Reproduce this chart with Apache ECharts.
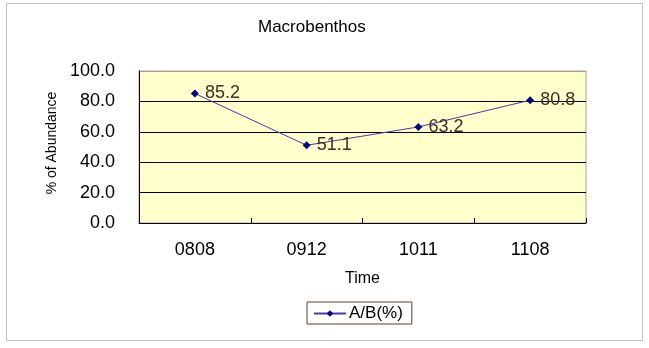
<!DOCTYPE html>
<html>
<head>
<meta charset="utf-8">
<script src="https://cdn.jsdelivr.net/npm/echarts@6/dist/echarts.min.js"></script>
<style>
  html, body { margin: 0; padding: 0; background: #fff; }
  #chart { width: 649px; height: 348px; }
</style>
</head>
<body>
<div id="chart"></div>
<script>
// Sampling periods (YYMM) and the A/B abundance ratio in percent
const periods = ['0808', '0912', '1011', '1108'];
const abRatio = [85.2, 51.1, 63.2, 80.8];
const seriesName = 'A/B(%)';

const FONT = 'Liberation Sans, Arial, sans-serif';

const chart = echarts.init(document.getElementById('chart'), null, { renderer: 'canvas' });

chart.setOption({
  backgroundColor: '#ffffff',
  animation: false,
  textStyle: { fontFamily: FONT },
  title: {
    text: 'Macrobenthos',
    left: 258,
    top: 19,
    padding: 0,
    textStyle: { fontFamily: FONT, fontSize: 17, fontWeight: 'normal', color: '#000' }
  },
  graphic: [{
    type: 'rect',
    shape: { x: 6.5, y: 3.5, width: 636, height: 337 },
    style: { fill: null, stroke: '#c0c0c0', lineWidth: 1 },
    silent: true,
    z: -1
  }],
  legend: {
    data: [seriesName],
    left: 307,
    top: 302,
    padding: [3, 9, 2, 6],
    itemWidth: 32,
    itemHeight: 8,
    itemGap: 6,
    borderColor: '#5a3c3c',
    borderWidth: 1,
    textStyle: { fontFamily: FONT, fontSize: 17, color: '#000', padding: [0, 0, 0, -2] }
  },
  grid: {
    show: true,
    left: 139,
    top: 71,
    width: 447,
    height: 152,
    backgroundColor: '#ffffcc',
    borderColor: '#b49c9c',
    borderWidth: 1
  },
  xAxis: {
    type: 'category',
    data: periods,
    boundaryGap: true,
    name: 'Time',
    nameLocation: 'middle',
    nameGap: 48,
    nameTextStyle: { fontFamily: FONT, fontSize: 16, color: '#000' },
    axisLine: { lineStyle: { color: '#000', width: 1 } },
    axisTick: { show: true, inside: true, length: 5, lineStyle: { color: '#000' } },
    axisLabel: { fontFamily: FONT, fontSize: 18, color: '#000', margin: 18 },
    splitLine: { show: false }
  },
  yAxis: {
    type: 'value',
    min: 0,
    max: 100,
    interval: 20,
    name: '% of Abundance',
    nameLocation: 'middle',
    nameRotate: 90,
    nameGap: 80,
    nameTextStyle: { fontFamily: FONT, fontSize: 14, color: '#000', padding: [0, 0, 0, 8] },
    axisLine: { show: true, lineStyle: { color: '#000', width: 1 } },
    axisTick: { show: false },
    axisLabel: {
      fontFamily: FONT, fontSize: 18, color: '#000', margin: 24,
      formatter: v => v.toFixed(1)
    },
    splitLine: {
      show: true,
      lineStyle: { color: ['#000', '#000', '#000', '#000', '#000', '#b49c9c'], width: 1 }
    }
  },
  series: [{
    name: seriesName,
    type: 'line',
    data: abRatio,
    symbol: 'diamond',
    symbolSize: 8,
    lineStyle: { color: '#4a3aa8', width: 1 },
    itemStyle: { color: '#000080' },
    label: {
      show: true,
      position: 'right',
      distance: 6,
      fontFamily: FONT,
      fontSize: 18,
      color: '#3a3028',
      formatter: p => p.value.toFixed(1)
    }
  }]
});
</script>
</body>
</html>
